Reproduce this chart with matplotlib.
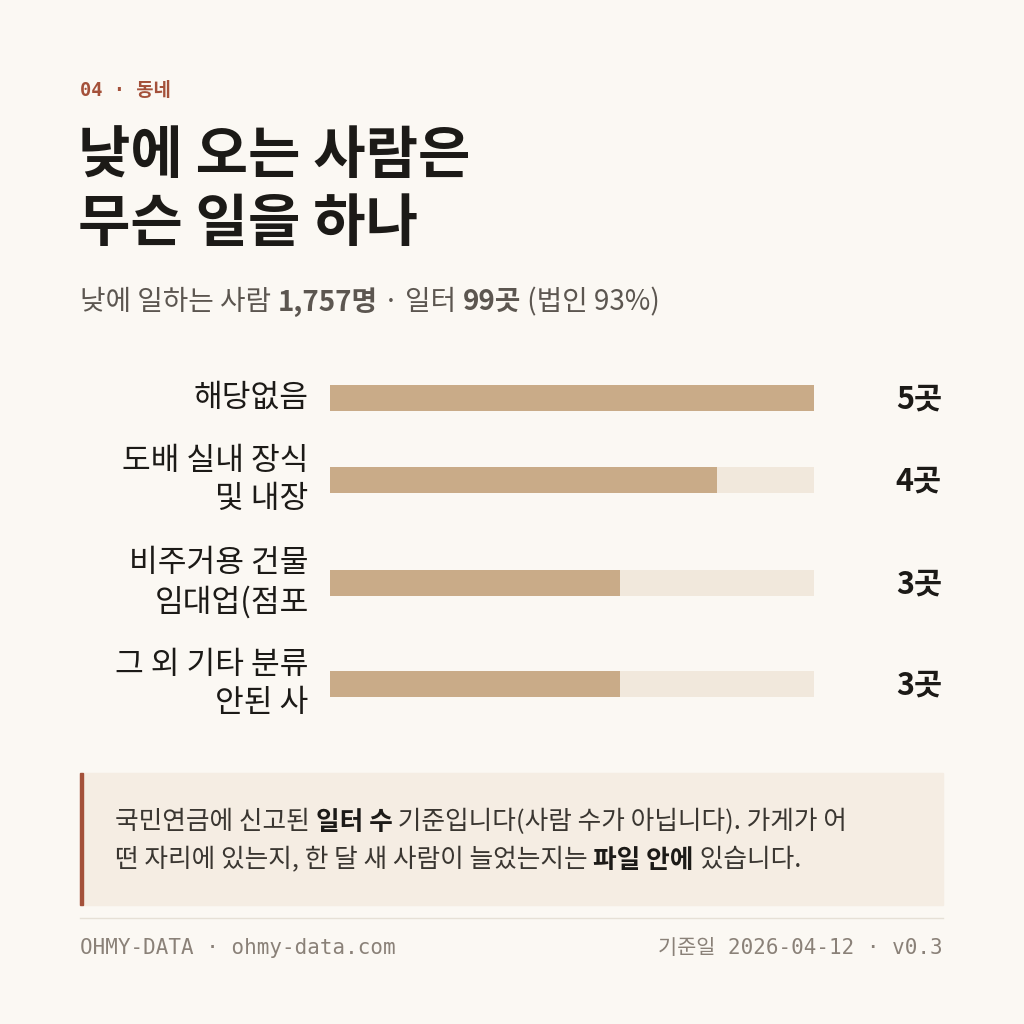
import matplotlib
matplotlib.use('Agg')
import matplotlib.pyplot as plt
from matplotlib.patches import Rectangle

KR = ['Noto Sans CJK KR', 'DejaVu Sans']
MONO = ['DejaVu Sans Mono', 'Noto Sans CJK KR']

categories = ['해당없음', '도배 실내 장식\n및 내장', '비주거용 건물\n임대업(점포', '그 외 기타 분류\n안된 사']
counts = [5, 4, 3, 3]
value_labels = ['5곳', '4곳', '3곳', '3곳']
max_count = 5

BG = '#fbf8f3'
BAR = '#c9ab88'
TRACK = '#f1e8dc'
INK = '#1c1a17'
GREY = '#5c5650'
RUST = '#a4513a'

W = H = 1024
fig = plt.figure(figsize=(10.24, 10.24), dpi=100, facecolor=BG)


def px(x, y):
    return x / W, 1 - y / H


fig.text(*px(80, 90), '04 · 동네', family=MONO, fontsize=13.5, color=RUST,
         fontweight='bold', va='center')
fig.text(*px(78, 190), '낮에 오는 사람은\n무슨 일을 하나', family=KR, fontsize=41,
         fontweight='bold', color=INK, va='center', linespacing=1.2)

# subtitle with bold parts
parts = [('낮에 일하는 사람 ', 'normal'), ('1,757명', 'bold'), (' · 일터 ', 'normal'),
         ('99곳', 'bold'), (' (법인 93%)', 'normal')]
fig.canvas.draw()
r = fig.canvas.get_renderer()
x = 80
for s, w in parts:
    t = fig.text(*px(x, 302), s, family=KR, fontsize=20, fontweight=w, color=GREY, va='center')
    x += t.get_window_extent(r).width

# bars
ax = fig.add_axes([330 / W, 1 - 720 / H, (814 - 330) / W, (720 - 375) / H])
ax.set_xlim(0, max_count)
ax.set_ylim(720, 375)
ax.axis('off')
ypos = [398, 480, 583, 684]
for cat, c, lab, y in zip(categories, counts, value_labels, ypos):
    ax.barh(y, max_count, height=26, color=TRACK)
    ax.barh(y, c, height=26, color=BAR)
    ax.text(-0.22, y, cat, ha='right', va='center', family=KR, fontsize=22.5,
            color=INK, linespacing=1.25)
    fig.text(*px(942, y + 2), lab, ha='right', va='center', family=KR, fontsize=22,
             fontweight='bold', color=INK)

# note box
fig.patches.append(Rectangle(px(80, 905), 863 / W, 132 / H, transform=fig.transFigure,
                             color='#f5ede3', zorder=0))
fig.patches.append(Rectangle(px(80, 905), 3 / W, 132 / H, transform=fig.transFigure,
                             color=RUST, zorder=1))
lines = [[('국민연금에 신고된 ', 'normal'), ('일터 수', 'bold'),
          (' 기준입니다(사람 수가 아닙니다). 가게가 어', 'normal')],
         [('떤 자리에 있는지, 한 달 새 사람이 늘었는지는 ', 'normal'), ('파일 안에', 'bold'),
          (' 있습니다.', 'normal')]]
for yy, ln in zip([822, 860], lines):
    x = 115
    for s, w in ln:
        t = fig.text(*px(x, yy), s, family=KR, fontsize=18.5, fontweight=w,
                     color=INK if w == 'bold' else '#3a3631', va='center')
        x += t.get_window_extent(r).width

fig.add_artist(plt.Line2D([80 / W, 943 / W], [1 - 918 / H] * 2, color='#e6e0d6', lw=1))
fig.text(*px(80, 948), 'OHMY-DATA · ohmy-data.com', family=MONO, fontsize=15,
         color='#8a8178', va='center')
fig.text(*px(943, 948), '기준일 2026-04-12 · v0.3', family=MONO, fontsize=15,
         color='#8a8178', va='center', ha='right')

fig.savefig('out.png', dpi=100, facecolor=BG)
